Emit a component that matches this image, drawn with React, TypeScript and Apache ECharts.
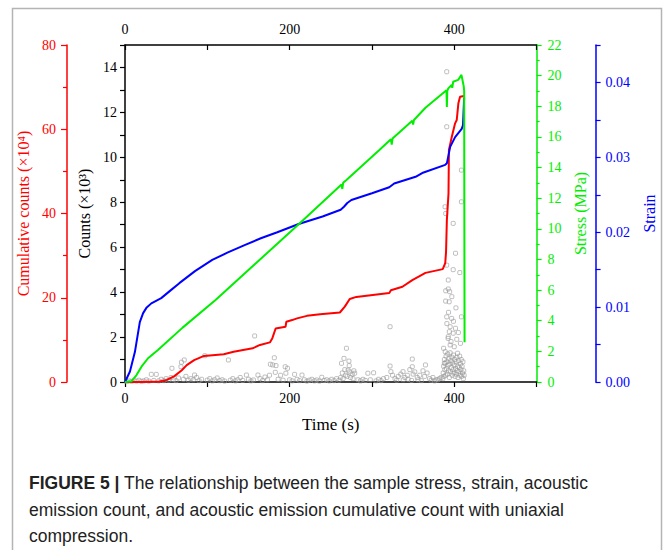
import React, { useEffect, useRef } from "react";
import * as echarts from "echarts";

// ---- Data ----
const timeRange = [0, 500];
const timeLabels = [0, 200, 400];

// Cumulative counts (x10^4) vs time (s)
const cumulativeData: [number, number][] = [
  [0, 0], [18, 0], [42, 0.1], [51, 0.5], [60, 1.4], [69, 2.8], [75, 4.0], [84, 5.2],
  [96, 6.2], [120, 6.6], [132, 7.2], [155, 8.0], [164, 8.8], [176, 9.4], [179, 10.4],
  [183, 12.7], [195, 13.1], [196, 14.3], [203, 14.7], [209, 15.1], [221, 15.7],
  [237, 16.1], [261, 16.5], [267, 17.9], [273, 19.7], [281, 20.2], [321, 21.1],
  [323, 21.8], [337, 22.6], [349, 24.2], [365, 25.9], [386, 26.8], [389, 28.2],
  [390, 30.9], [391, 38.5], [393, 44.8], [393.5, 55.1], [397, 58.2], [401, 61.4],
  [403, 62.2], [405, 66.2], [407, 67.7], [412, 67.9],
];

// Stress (MPa) vs time (s)
const stressData: [number, number][] = [
  [0, 0], [8, 0.05], [14, 0.45], [20, 1.0], [28, 1.55], [40, 2.09], [70, 3.55],
  [110, 5.35], [160, 7.8], [213, 10.4], [263, 12.9], [264, 12.6], [265, 13.0],
  [269, 13.19], [309, 15.15], [323, 15.85], [324, 15.5], [325, 15.9], [349, 17.05],
  [350, 16.8], [351, 17.1], [365, 17.9], [390.5, 19.05], [391, 17.95], [391.5, 19.0],
  [392.7, 19.17], [396.8, 19.39], [397.5, 19.2], [398.7, 19.6], [404.7, 19.72],
  [408.7, 20.05], [411.5, 19.3], [412, 19.0], [412.5, 2.6],
];

// Strain vs time (s)
const strainData: [number, number][] = [
  [0, 0], [6, 0.0014], [12, 0.004], [18, 0.008], [22, 0.0092], [26, 0.0099],
  [32, 0.0105], [44, 0.0112], [55, 0.0122], [66, 0.0132], [85, 0.0148],
  [106, 0.0163], [125, 0.0173], [146, 0.0183], [165, 0.0192], [185, 0.02],
  [211, 0.0211], [240, 0.0221], [262, 0.023], [266, 0.0234], [270, 0.0239],
  [275, 0.0243], [300, 0.0252], [321, 0.026], [327, 0.0265], [353, 0.0274],
  [361, 0.0279], [389, 0.029], [391, 0.0292], [395, 0.0314], [401, 0.0327],
  [409, 0.0338], [410.6, 0.0343], [412, 0.038],
];

// AE counts (x10^3) vs time (s)
const countsPeaks: [number, number][] = [
  [390.8, 13.81], [390.8, 11.36], [408.7, 9.43], [408.7, 8.02], [388.8, 7.8],
  [389.6, 7.5], [398.7, 7.06], [401.5, 5.73], [390.8, 5.2], [398.7, 5.0],
  [406.7, 4.87], [392.7, 4.54], [389.6, 4.06], [394.4, 4.02], [390.8, 2.9],
  [396.8, 2.83], [408.7, 2.9], [395, 2.46], [401.5, 2.39], [398.7, 2.17],
  [392.7, 2.02], [407.5, 1.72], [400, 1.57], [404, 1.28], [389.5, 3.6],
  [393.8, 3.57], [392.7, 4.14], [394, 2.24], [392.5, 1.94], [395, 1.65], [389, 1.35],
  [387, 1.5], [396, 1.8], [403, 1.9], [391, 2.6], [399, 2.7], [405, 2.2],
  [393, 3.1], [402, 3.3], [397, 3.8],
];
const countsCluster: [number, number][] = [
  [386, 0.15], [386.5, 0.4], [387, 0.7], [387.5, 0.25], [388, 1.0], [388.5, 0.55],
  [389, 0.85], [389.5, 0.3], [390, 1.15], [390.5, 0.6], [391, 0.9], [391.5, 0.35],
  [392, 1.25], [392.5, 0.75], [393, 0.5], [393.5, 1.05], [394, 0.2], [394.5, 0.8],
  [395, 1.3], [395.5, 0.45], [396, 0.95], [396.5, 0.65], [397, 1.1], [397.5, 0.3],
  [398, 0.85], [398.5, 0.55], [399, 1.2], [399.5, 0.4], [400, 0.75], [400.5, 1.0],
  [401, 0.25], [401.5, 0.6], [402, 0.9], [402.5, 0.35], [403, 1.1], [403.5, 0.5],
  [404, 0.7], [404.5, 0.2], [405, 0.95], [405.5, 0.45], [406, 0.65], [406.5, 1.15],
  [407, 0.3], [407.5, 0.8], [408, 0.55], [408.5, 1.0], [409, 0.25], [409.5, 0.7],
  [410, 0.4], [410.5, 0.9], [411, 0.15], [411.5, 0.5], [412, 0.3],
];
const countsMid: [number, number][] = [
  [32, 0.34], [38, 0.34], [57, 0.61], [68, 0.68], [68.6, 0.88], [72, 0.98],
  [84.5, 0.31], [97, 1.17], [125.6, 0.98], [147.5, 0.31], [157.5, 2.05],
  [161.5, 0.31], [175.5, 0.3], [181.4, 1.08], [176.6, 0.79], [179.4, 0.76],
  [183.4, 0.73], [182.6, 0.43], [194.6, 0.68], [195.4, 0.39], [197.4, 0.61],
  [206, 0.34], [215, 0.31], [239, 0.21], [263, 0.83], [266, 1.05], [269, 1.5],
  [272, 0.93], [272.4, 0.73], [271, 0.53], [279, 0.39], [295, 0.39], [302, 0.41],
  [262, 0.2], [264, 0.4], [265, 0.15], [267, 0.55], [268, 0.3], [270, 0.25],
  [273, 0.45], [274, 0.2], [276, 0.35], [277, 0.15], [278, 0.5],
  [322, 2.46], [322, 0.71], [323, 0.46], [337.7, 0.46], [349, 1.02], [349, 0.68],
  [365, 0.76], [388, 0.83], [318, 0.2], [325, 0.3], [328, 0.15], [332, 0.25],
  [335, 0.35], [340, 0.2], [343, 0.3], [346, 0.55], [350, 0.35], [352, 0.45],
  [355, 0.2], [358, 0.3], [362, 0.5], [364, 0.25], [367, 0.4], [370, 0.15],
  [374, 0.2], [378, 0.1], [382, 0.15],
];
const countsBase: [number, number][] = [
  [2, 0.02], [5, 0.05], [8, 0.03], [11, 0.06], [14, 0.04], [17, 0.08], [20, 0.03],
  [23, 0.05], [26, 0.1], [29, 0.04], [35, 0.07], [41, 0.05], [44, 0.12], [47, 0.06],
  [50, 0.15], [53, 0.08], [56, 0.2], [59, 0.1], [62, 0.06], [65, 0.18], [71, 0.12],
  [74, 0.25], [77, 0.08], [80, 0.15], [83, 0.1], [87, 0.2], [90, 0.06], [93, 0.12],
  [100, 0.08], [103, 0.15], [106, 0.05], [109, 0.1], [112, 0.18], [115, 0.06],
  [118, 0.1], [121, 0.04], [128, 0.08], [131, 0.15], [134, 0.05], [137, 0.1],
  [140, 0.2], [143, 0.07], [150, 0.12], [153, 0.05], [156, 0.09], [164, 0.15],
  [167, 0.06], [170, 0.22], [173, 0.1], [186, 0.12], [189, 0.3], [192, 0.08],
  [200, 0.1], [203, 0.05], [209, 0.12], [212, 0.06], [218, 0.1], [221, 0.04],
  [224, 0.08], [227, 0.12], [230, 0.05], [233, 0.09], [236, 0.04], [242, 0.07],
  [245, 0.1], [248, 0.05], [251, 0.12], [254, 0.06], [257, 0.15], [260, 0.08],
  [283, 0.1], [286, 0.05], [289, 0.12], [292, 0.07], [298, 0.1], [305, 0.05],
  [308, 0.12], [311, 0.06], [314, 0.15], [330, 0.08], [338, 0.1], [344, 0.12],
  [348, 0.07], [356, 0.1], [360, 0.06], [372, 0.08], [376, 0.05], [380, 0.1],
  [384, 0.2],
];

const captionLines = [
  "The relationship between the sample stress, strain, acoustic",
  "emission count, and acoustic emission cumulative count with uniaxial",
  "compression.",
];

const SERIF = "'Liberation Serif', 'Times New Roman', serif";
const SANS = "'Liberation Sans', Arial, sans-serif";
const RED = "#ff0000";
const GREEN = "#00ee00";
const BLUE = "#0000ff";

export default function App() {
  const ref = useRef<HTMLDivElement>(null);
  useEffect(() => {
    if (!ref.current) return;
    const chart = echarts.init(ref.current, null, { renderer: "svg" });
    const labelStyle = (color: string) => ({
      color,
      fontFamily: SERIF,
      fontSize: 14,
    });
    const xCommon = {
      type: "value" as const,
      min: timeRange[0],
      max: timeRange[1],
      interval: 100,
      splitLine: { show: false },
      axisLine: { show: true, onZero: false, lineStyle: { color: "#000", width: 1.5 } },
      axisTick: { show: true, length: 5, lineStyle: { color: "#000", width: 1.2 } },
    };
    const yLine = (color: string) => ({
      show: true,
      onZero: false,
      lineStyle: { color, width: 1.5 },
    });
    const option: any = {
      animation: false,
      backgroundColor: "#fff",
      grid: { left: 125, right: 122, top: 45, bottom: 168, containLabel: false },
      xAxis: [
        {
          ...xCommon,
          position: "bottom",
          axisLabel: {
            ...labelStyle("#000"),
            margin: 9,
            formatter: (v: number) => (timeLabels.includes(v) ? String(v) : ""),
          },
          name: "Time (s)",
          nameLocation: "middle",
          nameGap: 34,
          nameTextStyle: { color: "#000", fontFamily: SERIF, fontSize: 17 },
        },
        {
          ...xCommon,
          position: "top",
          axisTick: { ...xCommon.axisTick, inside: true },
          axisLabel: {
            ...labelStyle("#000"),
            margin: 9,
            formatter: (v: number) => (timeLabels.includes(v) ? String(v) : ""),
          },
        },
      ],
      yAxis: [
        {
          type: "value",
          position: "left",
          min: 0,
          max: 15,
          interval: 1,
          splitLine: { show: false },
          axisLine: yLine("#000"),
          axisTick: { show: true, length: 5, lineStyle: { color: "#000", width: 1.2 } },
          axisLabel: {
            ...labelStyle("#000"),
            margin: 8,
            formatter: (v: number) => (v % 2 === 0 && v < 15 ? String(v) : ""),
          },
          name: "Counts (×10³)",
          nameLocation: "middle",
          nameGap: 30,
          nameRotate: 90,
          nameTextStyle: { color: "#000", fontFamily: SERIF, fontSize: 16 },
        },
        {
          type: "value",
          position: "left",
          offset: 58,
          min: 0,
          max: 80,
          interval: 20,
          splitLine: { show: false },
          axisLine: yLine(RED),
          axisTick: { show: true, length: 6, lineStyle: { color: RED, width: 1.2 } },
          minorTick: { show: true, splitNumber: 2, length: 4, lineStyle: { color: RED, width: 1.2 } },
          axisLabel: { ...labelStyle(RED), margin: 11 },
          name: "Cumulative counts (×10⁴)",
          nameLocation: "middle",
          nameGap: 31,
          nameRotate: 90,
          nameTextStyle: { color: RED, fontFamily: SERIF, fontSize: 16 },
        },
        {
          type: "value",
          position: "right",
          offset: 0,
          min: 0,
          max: 22,
          interval: 2,
          splitLine: { show: false },
          axisLine: yLine(GREEN),
          axisTick: { show: true, length: 5, lineStyle: { color: GREEN, width: 1.2 } },
          minorTick: { show: true, splitNumber: 2, length: 3, lineStyle: { color: GREEN, width: 1.2 } },
          axisLabel: { ...labelStyle(GREEN), margin: 11 },
          name: "Stress (MPa)",
          nameLocation: "middle",
          nameGap: 32,
          nameRotate: 90,
          nameTextStyle: { color: GREEN, fontFamily: SERIF, fontSize: 16 },
        },
        {
          type: "value",
          position: "right",
          offset: 59,
          min: 0,
          max: 0.045,
          interval: 0.005,
          splitLine: { show: false },
          axisLine: yLine(BLUE),
          axisTick: { show: true, length: 5, lineStyle: { color: BLUE, width: 1.2 } },
          axisLabel: {
            ...labelStyle(BLUE),
            margin: 10,
            formatter: (v: number) => {
              const k = Math.round(v * 1000);
              return k % 10 === 0 ? v.toFixed(2) : "";
            },
          },
          name: "Strain",
          nameLocation: "middle",
          nameGap: 42,
          nameRotate: 90,
          nameTextStyle: { color: BLUE, fontFamily: SERIF, fontSize: 16 },
        },
      ],
      series: [
        {
          type: "scatter",
          xAxisIndex: 0,
          yAxisIndex: 0,
          symbol: "roundRect",
          symbolSize: 4,
          itemStyle: { color: "rgba(255,255,255,0)", borderColor: "#999", borderWidth: 0.8 },
          data: [...countsBase, ...countsMid, ...countsCluster, ...countsPeaks],
          z: 1,
        },
        {
          type: "line",
          xAxisIndex: 0,
          yAxisIndex: 1,
          data: cumulativeData,
          showSymbol: false,
          lineStyle: { color: RED, width: 2 },
          z: 2,
        },
        {
          type: "line",
          xAxisIndex: 0,
          yAxisIndex: 3,
          data: strainData,
          showSymbol: false,
          lineStyle: { color: BLUE, width: 2 },
          z: 3,
        },
        {
          type: "line",
          xAxisIndex: 0,
          yAxisIndex: 2,
          data: stressData,
          showSymbol: false,
          lineStyle: { color: GREEN, width: 2 },
          z: 4,
        },
      ],
      graphic: [
        {
          type: "rect",
          shape: { x: 12.5, y: 8.5, width: 649, height: 560 },
          style: { fill: "none", stroke: "#b4b4b4", lineWidth: 1.5 },
          silent: true,
        },
        {
          type: "text",
          x: 29,
          y: 483,
          style: {
            text: "{b|FIGURE 5 |} " + captionLines[0],
            fontFamily: SANS,
            fontSize: 17.5,
            fill: "#222",
            verticalAlign: "middle",
            rich: { b: { fontWeight: "bold", fontFamily: SANS, fontSize: 17.5, fill: "#222" } },
          },
        },
        {
          type: "text",
          x: 29,
          y: 510,
          style: {
            text: captionLines[1],
            fontFamily: SANS,
            fontSize: 17.5,
            fill: "#222",
            verticalAlign: "middle",
          },
        },
        {
          type: "text",
          x: 29,
          y: 536,
          style: {
            text: captionLines[2],
            fontFamily: SANS,
            fontSize: 17.5,
            fill: "#222",
            verticalAlign: "middle",
          },
        },
      ],
    };
    chart.setOption(option);
    return () => chart.dispose();
  }, []);
  return (
    <div
      ref={ref}
      style={{ position: "absolute", left: 0, top: 0, width: 665, height: 550 }}
    />
  );
}
